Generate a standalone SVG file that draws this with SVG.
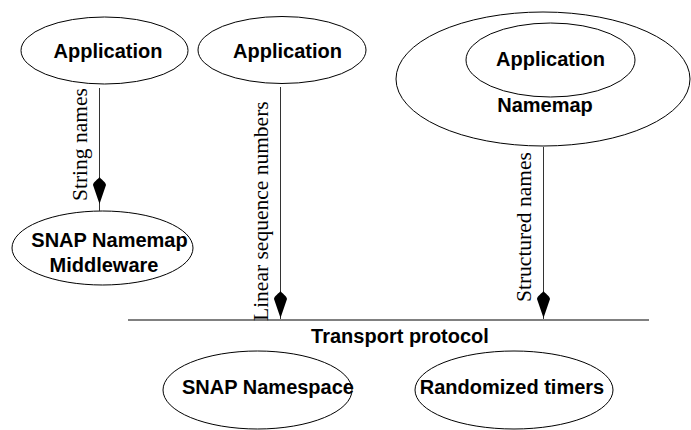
<svg xmlns="http://www.w3.org/2000/svg" xmlns:xlink="http://www.w3.org/1999/xlink" width="691" height="430" viewBox="0 0 691 430">
  <style>
    .node { fill: #ffffff; stroke: #000000; stroke-width: 1; }
    .label { font-family: "Liberation Sans", Arial, sans-serif; font-weight: bold; font-size: 20px; fill: #000000; text-anchor: middle; }
    .edge { stroke: #333333; stroke-width: 1; fill: none; }
    .edge-label { font-family: "Liberation Serif", "Times New Roman", serif; font-size: 21.5px; fill: #000000; }
    .bus { stroke: #808080; stroke-width: 2; fill: none; }
  </style>
  <defs>
    <!-- kite-shaped arrowhead, tip at the origin, pointing down -->
    <path id="head" d="M0,-27 C1,-25 6.5,-22 6.5,-19 L0,0 L-6.5,-19 C-6.5,-22 -1,-25 0,-27 Z" fill="#000000"/>
  </defs>

  <rect width="691" height="430" fill="#ffffff"/>

  <g id="app-left">
    <ellipse class="node" cx="104.5" cy="50.5" rx="83.5" ry="33.5"/>
    <text class="label" x="108" y="58">Application</text>
  </g>

  <g id="namemap-middleware">
    <ellipse class="node" cx="102.5" cy="248" rx="90.5" ry="37"/>
    <text class="label" x="109.5" y="247">SNAP Namemap</text>
    <text class="label" x="104" y="272">Middleware</text>
  </g>

  <g id="app-middle">
    <ellipse class="node" cx="282" cy="50" rx="84" ry="33.5"/>
    <text class="label" x="287.5" y="58">Application</text>
  </g>

  <g id="namemap">
    <ellipse class="node" cx="543" cy="79" rx="147" ry="67"/>
    <ellipse class="node" cx="550.5" cy="60" rx="84.5" ry="37"/>
    <text class="label" x="550.5" y="66">Application</text>
    <text class="label" x="545" y="112">Namemap</text>
  </g>

  <g id="transport">
    <line class="bus" x1="128" y1="320" x2="649" y2="320"/>
    <text class="label" x="400" y="343">Transport protocol</text>
  </g>

  <g id="namespace">
    <ellipse class="node" cx="257.5" cy="390" rx="94.5" ry="39"/>
    <text class="label" x="268" y="394">SNAP Namespace</text>
  </g>

  <g id="timers">
    <ellipse class="node" cx="514" cy="390" rx="99" ry="39"/>
    <text class="label" x="512" y="394">Randomized timers</text>
  </g>

  <g id="connectors">
    <line class="edge" x1="99.5" y1="88" x2="99.5" y2="211"/>
    <use xlink:href="#head" x="99.5" y="204"/>
    <text class="edge-label" transform="translate(87,201) rotate(-90)">String names</text>

    <line class="edge" x1="280.5" y1="87" x2="280.5" y2="319"/>
    <use xlink:href="#head" x="280.5" y="318"/>
    <text class="edge-label" transform="translate(268,321) rotate(-90)">Linear sequence numbers</text>

    <line class="edge" x1="543.5" y1="147" x2="543.5" y2="319"/>
    <use xlink:href="#head" x="543.5" y="318"/>
    <text class="edge-label" transform="translate(531,302) rotate(-90)">Structured names</text>
  </g>
</svg>
